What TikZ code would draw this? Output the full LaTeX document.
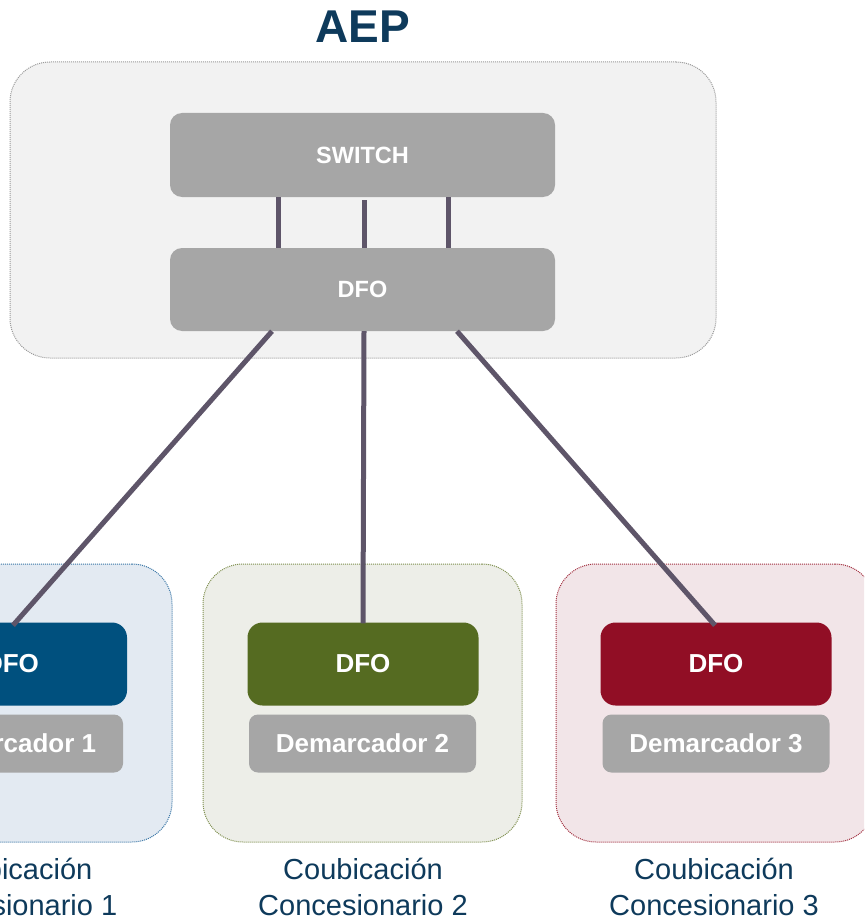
\documentclass[tikz,border=0pt]{standalone}
\usepackage{fontspec}
\setmainfont{Liberation Sans}
\definecolor{boxgray}{HTML}{A6A6A6}
\definecolor{aepfill}{HTML}{F2F2F2}
\definecolor{aepborder}{HTML}{9A9A9A}
\definecolor{linec}{HTML}{5E5569}
\definecolor{navy}{HTML}{0E3A5B}
\definecolor{dfoblue}{HTML}{00507E}
\definecolor{fillblue}{HTML}{E3EAF2}
\definecolor{bordblue}{HTML}{3A76A6}
\definecolor{dfogreen}{HTML}{556B21}
\definecolor{fillgreen}{HTML}{EDEEE8}
\definecolor{bordgreen}{HTML}{7F8F4F}
\definecolor{dfored}{HTML}{910E25}
\definecolor{fillred}{HTML}{F2E5E8}
\definecolor{bordred}{HTML}{A23040}
\tikzset{
  container/.style={draw, line width=1pt, dash pattern=on 1pt off 1pt, rounded corners=40pt, inner sep=0pt},
  graybox/.style={fill=boxgray, rounded corners=12pt, inner sep=0pt, text=white, font=\bfseries\fontsize{23.5}{28}\selectfont, minimum width=385pt, minimum height=84pt},
  dfobox/.style={rounded corners=15pt, inner sep=0pt, text=white, font=\bfseries\fontsize{26}{31}\selectfont, minimum width=231pt, minimum height=83pt},
  demarc/.style={fill=boxgray, rounded corners=9pt, inner sep=0pt, text=white, font=\bfseries\fontsize{26}{31}\selectfont, minimum width=227pt, minimum height=58pt},
  link/.style={draw=linec, line width=5pt},
  lab/.style={anchor=base, inner sep=0pt, text=navy, font=\fontsize{29}{35}\selectfont},
}
\begin{document}
\begin{tikzpicture}[x=1pt,y=-1pt]
\useasboundingbox (0,0) rectangle (864,920);
\clip (0,0) rectangle (864,920);
% title
\node[anchor=base, inner sep=0pt, text=navy, font=\bfseries\fontsize{46}{55}\selectfont] (title) at (363,43) {AEP};
% containers
\node[container, draw=aepborder, fill=aepfill, minimum width=706pt, minimum height=296pt] (aep) at (363,210) {};
\node[container, draw=bordblue, fill=fillblue, minimum width=319pt, minimum height=278pt] (c1) at (12.5,703) {};
\node[container, draw=bordgreen, fill=fillgreen, minimum width=319pt, minimum height=278pt] (c2) at (362.5,703) {};
\node[container, draw=bordred, fill=fillred, minimum width=319pt, minimum height=278pt] (c3) at (715.5,703) {};
% top boxes
\node[graybox] (sw) at (362.5,155) {SWITCH};
\node[graybox, minimum height=83pt] (dfo) at (362.5,289.5) {DFO};
% bottom boxes
\node[dfobox, fill=dfoblue] (d1) at (11.5,664) {DFO};
\node[dfobox, fill=dfogreen] (d2) at (363,664) {DFO};
\node[dfobox, fill=dfored] (d3) at (716,664) {DFO};
\node[demarc] (m1) at (9.5,743.5) {Demarcador 1};
\node[demarc] (m2) at (362.5,743.5) {Demarcador 2};
\node[demarc] (m3) at (716,743.5) {Demarcador 3};
% links
\draw[link] ([xshift=-84.5pt]sw.south) -- ([xshift=-84.5pt]dfo.north);
\draw[link] ([xshift=1.5pt,yshift=-3pt]sw.south) -- ([xshift=1.5pt]dfo.north);
\draw[link] ([xshift=85.5pt]sw.south) -- ([xshift=85.5pt]dfo.north);
\draw[link] ([xshift=-90.5pt]dfo.south) -- ([xshift=1.5pt,yshift=-3pt]d1.north);
\draw[link] ([xshift=1.5pt]dfo.south) -- ([yshift=-1pt]d2.north);
\draw[link] ([xshift=94.5pt]dfo.south) -- ([xshift=-1pt,yshift=-3pt]d3.north);
% labels
\node[lab] (l1a) at (12.5,879) {Coubicación};
\node[lab] (l1b) at (12.5,915) {Concesionario 1};
\node[lab] (l2a) at (363,879) {Coubicación};
\node[lab] (l2b) at (363,915) {Concesionario 2};
\node[lab] (l3a) at (714,879) {Coubicación};
\node[lab] (l3b) at (714,915) {Concesionario 3};
\end{tikzpicture}
\end{document}
